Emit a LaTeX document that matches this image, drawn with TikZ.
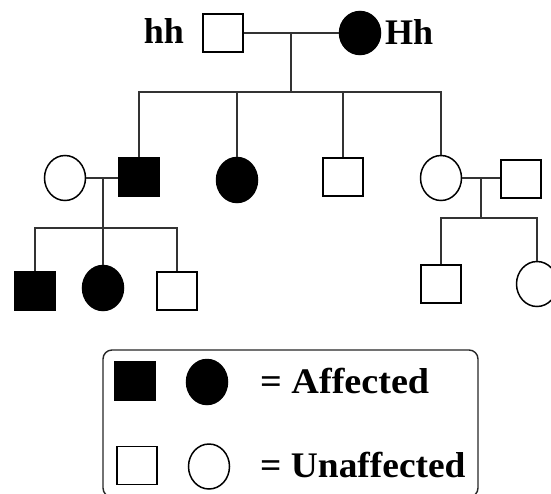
\documentclass[tikz,border=0pt]{standalone}
\usepackage{fontspec}
\setmainfont{Liberation Serif}
\usetikzlibrary{shapes.geometric}
\tikzset{
  sq/.style={draw=black, line width=1.5pt, minimum width=40pt, minimum height=38pt, inner sep=0pt},
  circ/.style={ellipse, draw=black, line width=1.5pt, minimum width=41pt, minimum height=45pt, inner sep=0pt},
  aff/.style={fill=black},
  link/.style={draw=black!80, line width=1.8pt},
  lbl/.style={inner sep=0pt, font=\bfseries\fontsize{36}{40}\selectfont},
  legendbox/.style={draw=black!85, line width=1.4pt, rounded corners=9pt, minimum width=375pt, minimum height=147pt, inner sep=0pt}
}
\begin{document}
\begin{tikzpicture}[x=1pt,y=-1pt]
\useasboundingbox (0,0) rectangle (551,493);
% generation I
\node[sq] (P1) at (223,33) {};
\node[circ, aff, minimum height=43pt] (P2) at (360,33) {};
\node[lbl, anchor=base east] (t1) at (184,43) {hh};
\node[lbl, anchor=base west] (t2) at (385,44) {Hh};
\coordinate (m1) at (291,33);
\coordinate (s1) at (291,92);
% generation II
\node[sq, aff] (C1) at (139,177) {};
\node[circ, aff] (C2) at (237,180) {};
\node[sq] (C3) at (343,177) {};
\node[circ] (C4) at (441,178) {};
\node[circ] (W1) at (65,178) {};
\node[sq] (H2) at (521,179) {};
\coordinate (m2) at (103,178);
\coordinate (s2) at (103,228);
\coordinate (m3) at (481,178);
\coordinate (s3) at (481,218);
% generation III
\node[sq, aff] (G1) at (35,291) {};
\node[circ, aff] (G2) at (103,288) {};
\node[sq] (G3) at (177,291) {};
\node[sq] (G4) at (441,284) {};
\node[circ] (G5) at (537,284) {};
% connectors
\path[link] (P1.east) -- (P2.west);
\path[link] (m1) -- (s1);
\path[link] (C1.north) |- (s1) -| (C4.north);
\path[link] (C2.north) -- (C2.north |- s1);
\path[link] (C3.north) -- (C3.north |- s1);
\path[link] (W1.east) -- (W1.east -| C1.west);
\path[link] (m2) -- (s2);
\path[link] (G1.north) |- (s2) -| (G3.north);
\path[link] (G2.north) -- (G2.north |- s2);
\path[link] (C4.east) -- (C4.east -| H2.west);
\path[link] (m3) -- (s3);
\path[link] (G4.north) |- (s3) -| (G5.north);
% legend
\node[legendbox] (L) at (290.5,423.5) {};
\node[sq, aff] (L1) at (135,381) {};
\node[circ, aff] (L2) at (207,382) {};
\node[sq] (L3) at (137,465.5) {};
\node[circ] (L4) at (209,466.5) {};
\node[lbl, anchor=base west] (La) at (260,393) {\scalebox{1.06}[1]{= Affected}};
\node[lbl, anchor=base west] (Lu) at (260,477) {\scalebox{1.04}[1]{= Unaffected}};
\end{tikzpicture}
\end{document}
